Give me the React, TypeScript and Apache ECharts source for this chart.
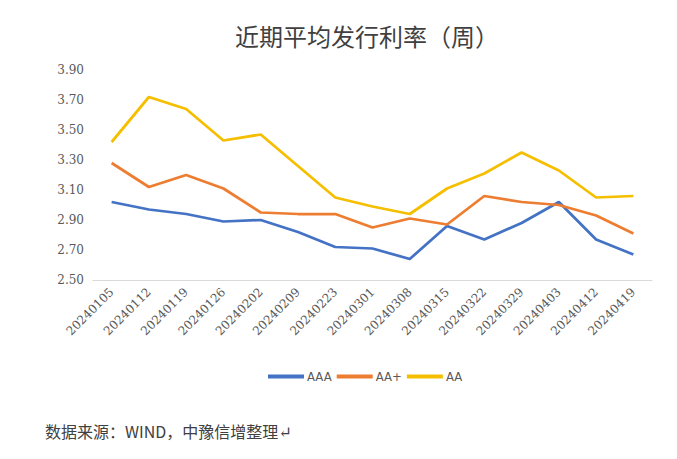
import React, { useEffect, useRef } from "react";
import * as echarts from "echarts";

const categories = [
  "20240105", "20240112", "20240119", "20240126", "20240202", "20240209", "20240223", "20240301",
  "20240308", "20240315", "20240322", "20240329", "20240403", "20240412", "20240419",
];
const aaa = [3.02, 2.97, 2.94, 2.89, 2.90, 2.82, 2.72, 2.71, 2.64, 2.86, 2.77, 2.88, 3.02, 2.77, 2.67];
const aaPlus = [3.28, 3.12, 3.20, 3.11, 2.95, 2.94, 2.94, 2.85, 2.91, 2.87, 3.06, 3.02, 3.00, 2.93, 2.81];
const aa = [3.42, 3.72, 3.64, 3.43, 3.47, 3.26, 3.05, 2.99, 2.94, 3.11, 3.21, 3.35, 3.23, 3.05, 3.06];

const FONT = "'Noto Sans CJK SC', 'DejaVu Serif', serif";

export default function App() {
  const ref = useRef<HTMLDivElement>(null);
  useEffect(() => {
    const chart = echarts.init(ref.current!, undefined, { renderer: "svg" });
    chart.setOption({
      animation: false,
      backgroundColor: "#ffffff",
      title: {
        text: "近期平均发行利率（周）",
        left: 230,
        top: 18,
        textStyle: { fontFamily: FONT, fontSize: 24, fontWeight: "normal", color: "#404040" },
      },
      grid: { left: 93, right: 25, top: 70, bottom: 179 },
      legend: {
        top: 365,
        left: 263,
        itemWidth: 36,
        itemHeight: 4,
        itemGap: 5,
        icon: "rect",
        textStyle: { fontFamily: "'DejaVu Sans Condensed', sans-serif", fontSize: 13, color: "#595959", padding: [0, 0, 0, -2] },
        data: ["AAA", "AA+", "AA"],
      },
      xAxis: {
        type: "category",
        data: categories,
        boundaryGap: true,
        axisLine: { lineStyle: { color: "#d9d9d9", width: 1 } },
        axisTick: { show: false },
        axisLabel: {
          rotate: 45,
          interval: 0,
          fontSize: 12,
          fontFamily: "'DejaVu Serif', serif",
          color: "#595959",
          margin: 10,
        },
      },
      yAxis: {
        type: "value",
        min: 2.5,
        max: 3.9,
        interval: 0.2,
        axisLine: { show: false },
        axisTick: { show: false },
        splitLine: { show: false },
        axisLabel: {
          formatter: (v: number) => v.toFixed(2),
          fontSize: 12,
          fontFamily: "'DejaVu Serif', serif",
          color: "#595959",
          margin: 9,
        },
      },
      series: [
        { name: "AAA", type: "line", data: aaa, symbol: "none", lineStyle: { width: 2.75, color: "#4472C4" }, itemStyle: { color: "#4472C4" } },
        { name: "AA+", type: "line", data: aaPlus, symbol: "none", lineStyle: { width: 2.75, color: "#ED7D31" }, itemStyle: { color: "#ED7D31" } },
        { name: "AA", type: "line", data: aa, symbol: "none", lineStyle: { width: 2.75, color: "#F5BF00" }, itemStyle: { color: "#F5BF00" } },
      ],
      graphic: [
        {
          type: "text",
          left: 45,
          top: 423,
          style: { text: "数据来源：WIND，中豫信增整理↵", fontFamily: FONT, fontSize: 16, fill: "#404040" },
        },
      ],
    });
    return () => chart.dispose();
  }, []);
  return <div ref={ref} style={{ position: "fixed", left: 0, top: 0, width: 677, height: 459 }} />;
}
